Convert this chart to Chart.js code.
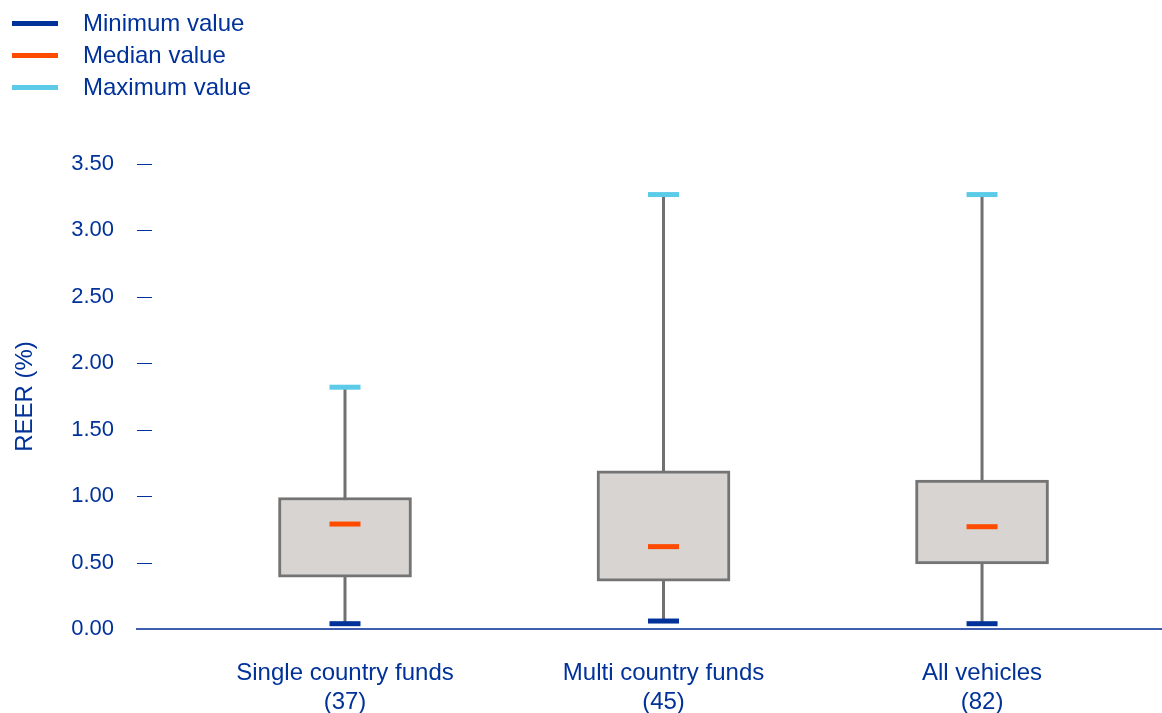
<!DOCTYPE html>
<html>
<head>
<meta charset="utf-8">
<title>REER by vehicle type</title>
<script src="https://cdn.jsdelivr.net/npm/chart.js@4.4.1/dist/chart.umd.min.js"></script>
<style>
  html, body { margin: 0; padding: 0; background: #ffffff; }
  #wrap { position: relative; width: 1162px; height: 713px; }
  #legend { position: absolute; left: 12px; top: 7px; font-family: "Liberation Sans", Arial, sans-serif; font-size: 24px; color: #003299; }
  #legend .item { display: flex; align-items: center; height: 32px; }
  #legend .swatch { width: 46px; height: 5px; margin-right: 25px; }
</style>
</head>
<body>
<div id="wrap">
  <canvas id="chart" width="1162" height="713"></canvas>
  <div id="legend"></div>
</div>
<script>
// Category names and number of vehicles in each group
const categories = ['Single country funds', 'Multi country funds', 'All vehicles'];
const counts = [37, 45, 82];

// Distribution statistics of REER (%) per group
const minValues    = [0.04, 0.06, 0.04];
const q1Values     = [0.39, 0.36, 0.49];
const medianValues = [0.79, 0.62, 0.77];
const q3Values     = [0.99, 1.19, 1.12];
const maxValues    = [1.82, 3.27, 3.27];

// y-axis tick values
const yTicks = [0, 0.5, 1, 1.5, 2, 2.5, 3, 3.5];

const BLUE = '#003299';
const FONT = '"Liberation Sans", Arial, sans-serif';

const positions = categories.map((_, i) => i);

// whiskers: one vertical segment per group, broken by gaps
const whiskerData = [];
positions.forEach((x, i) => {
  whiskerData.push({ x: x, y: minValues[i] });
  whiskerData.push({ x: x, y: maxValues[i] });
  whiskerData.push({ x: x, y: null });
});

const markerSet = (label, values, color) => ({
  type: 'line',
  label: label,
  data: positions.map((x, i) => ({ x: x, y: values[i] })),
  showLine: false,
  pointStyle: 'line',
  pointRadius: 15.5,
  pointHoverRadius: 15.5,
  pointBorderWidth: 5,
  pointBorderColor: color,
  pointBackgroundColor: color,
  borderColor: color,
  order: 1,
  isMarker: true
});

// short tick marks drawn just inside the plot's left edge
const yTickMarks = {
  id: 'yTickMarks',
  afterDatasetsDraw(chart) {
    const { ctx, chartArea } = chart;
    const y = chart.scales.y;
    ctx.save();
    ctx.strokeStyle = BLUE;
    ctx.lineWidth = 1;
    y.ticks.forEach(t => {
      if (t.value === 0) return;
      const py = Math.round(y.getPixelForValue(t.value)) + 0.5;
      ctx.beginPath();
      ctx.moveTo(chartArea.left, py);
      ctx.lineTo(chartArea.left + 15, py);
      ctx.stroke();
    });
    ctx.restore();
  }
};

// legend built from the marker datasets
const htmlLegend = {
  id: 'htmlLegend',
  afterUpdate(chart) {
    const box = document.getElementById('legend');
    box.innerHTML = '';
    chart.data.datasets.filter(d => d.isMarker).forEach(d => {
      const item = document.createElement('div');
      item.className = 'item';
      const sw = document.createElement('span');
      sw.className = 'swatch';
      sw.style.background = d.pointBorderColor;
      const tx = document.createElement('span');
      tx.textContent = d.label;
      item.appendChild(sw);
      item.appendChild(tx);
      box.appendChild(item);
    });
  }
};

new Chart(document.getElementById('chart'), {
  data: {
    datasets: [
      markerSet('Minimum value', minValues, '#003299'),
      markerSet('Median value', medianValues, '#ff4b00'),
      markerSet('Maximum value', maxValues, '#5ccbe8'),
      {
        type: 'bar',
        label: 'Interquartile range',
        data: positions.map((x, i) => ({ x: x, y: [q1Values[i], q3Values[i]] })),
        backgroundColor: '#d8d4d1',
        borderColor: '#747474',
        borderWidth: 3,
        borderSkipped: false,
        barThickness: 133,
        order: 2
      },
      {
        type: 'line',
        label: 'Range',
        data: whiskerData,
        borderColor: '#707070',
        borderWidth: 3,
        pointRadius: 0,
        spanGaps: false,
        order: 3
      }
    ]
  },
  options: {
    responsive: false,
    animation: false,
    events: [],
    layout: { autoPadding: false, padding: { top: 164, right: 0, bottom: 0, left: 0 } },
    plugins: {
      legend: { display: false },
      tooltip: { enabled: false }
    },
    scales: {
      x: {
        type: 'linear',
        offset: false,
        min: -0.653,
        max: 2.565,
        afterBuildTicks(scale) {
          scale.ticks = positions.map(v => ({ value: v }));
        },
        afterFit(scale) {
          scale.height = 84;
          scale.paddingLeft = 0;
          scale.paddingRight = 0;
        },
        grid: { display: false, drawTicks: false },
        border: { display: true, color: '#3d5fad', width: 2 },
        ticks: {
          autoSkip: false,
          maxRotation: 0,
          padding: 30,
          color: BLUE,
          font: { family: FONT, size: 24, lineHeight: 1.2 },
          callback: (value, index) => [categories[index], '(' + counts[index] + ')']
        }
      },
      y: {
        min: 0,
        max: 3.5,
        afterBuildTicks(scale) {
          scale.ticks = yTicks.map(v => ({ value: v }));
        },
        afterFit(scale) { scale.width = 137; },
        grid: { display: false, drawTicks: false },
        border: { display: false },
        ticks: {
          padding: 23,
          color: BLUE,
          font: { family: FONT, size: 22 },
          callback: v => v.toFixed(2)
        },
        title: {
          display: true,
          text: 'REER (%)',
          color: BLUE,
          font: { family: FONT, size: 24 },
          padding: { top: 11, bottom: 0 }
        }
      }
    }
  },
  plugins: [yTickMarks, htmlLegend]
});
</script>
</body>
</html>
